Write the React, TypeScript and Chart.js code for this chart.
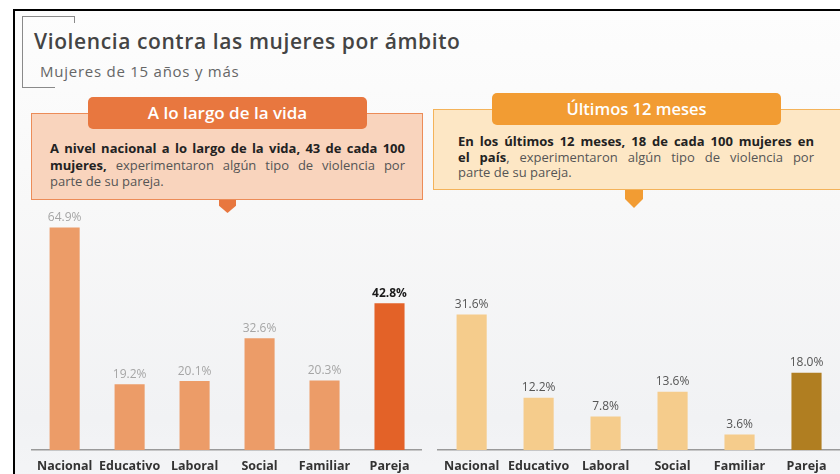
import React, { useEffect, useRef } from "react";
import { Chart, registerables } from "chart.js";

Chart.register(...registerables);

const categories = ["Nacional", "Educativo", "Laboral", "Social", "Familiar", "Pareja"];
const lifetimeValues = [64.9, 19.2, 20.1, 32.6, 20.3, 42.8];
const last12Values = [31.6, 12.2, 7.8, 13.6, 3.6, 18.0];
const lifetimeLabels = ["64.9%", "19.2%", "20.1%", "32.6%", "20.3%", "42.8%"];
const last12Labels = ["31.6%", "12.2%", "7.8%", "13.6%", "3.6%", "18.0%"];

const FONT = "'Open Sans', 'DejaVu Sans', sans-serif";

type LabelStyle = { color: string; bold: boolean };

function makeChart(
  canvas: HTMLCanvasElement,
  values: number[],
  labels: string[],
  barColors: string[],
  labelStyles: LabelStyle[],
  yMax: number,
  barPct: number
) {
  const valueLabels = {
    id: "valueLabels",
    afterDatasetsDraw(chart: any) {
      const ctx = chart.ctx;
      const meta = chart.getDatasetMeta(0);
      meta.data.forEach((bar: any, i: number) => {
        const st = labelStyles[i];
        ctx.save();
        ctx.font = `${st.bold ? "700" : "400"} 12px ${FONT}`;
        ctx.fillStyle = st.color;
        ctx.textAlign = "center";
        ctx.textBaseline = "bottom";
        ctx.fillText(labels[i], bar.x, bar.y - 4);
        ctx.restore();
      });
    },
  };
  return new Chart(canvas, {
    type: "bar",
    data: {
      labels: categories,
      datasets: [
        {
          data: values,
          backgroundColor: barColors,
          borderWidth: 0,
          categoryPercentage: 1,
          barPercentage: barPct,
        },
      ],
    },
    options: {
      animation: false,
      responsive: false,
      maintainAspectRatio: false,
      layout: { padding: { top: 11, left: 0, right: 0, bottom: 0 } },
      plugins: { legend: { display: false }, tooltip: { enabled: false } },
      scales: {
        x: {
          grid: { display: false, drawTicks: false },
          border: { display: true, color: "#9a9a9a", width: 1.5 },
          ticks: {
            padding: 9,
            color: "#333",
            maxRotation: 0,
            minRotation: 0,
            autoSkip: false,
            font: { family: FONT, size: 12.5, weight: "bold" },
          },
        },
        y: {
          display: false,
          min: 0,
          max: yMax,
        },
      },
    },
    plugins: [valueLabels],
  });
}

function BarCanvas(props: {
  left: number;
  width: number;
  values: number[];
  labels: string[];
  barColors: string[];
  labelStyles: LabelStyle[];
  yMax: number;
  barPct: number;
}) {
  const ref = useRef<HTMLCanvasElement>(null);
  useEffect(() => {
    if (!ref.current) return;
    const c = makeChart(
      ref.current,
      props.values,
      props.labels,
      props.barColors,
      props.labelStyles,
      props.yMax,
      props.barPct
    );
    return () => c.destroy();
  }, []);
  return (
    <canvas
      ref={ref}
      width={props.width}
      height={284}
      style={{ position: "absolute", left: props.left, top: 199, width: props.width, height: 284 }}
    />
  );
}

const leftBarColors = ["#ec9c68", "#ec9c68", "#ec9c68", "#ec9c68", "#ec9c68", "#e36228"];
const rightBarColors = ["#f5cc8c", "#f5cc8c", "#f5cc8c", "#f5cc8c", "#f5cc8c", "#b07e21"];
const leftLabelStyles: LabelStyle[] = [
  { color: "#a5a5a5", bold: false },
  { color: "#a5a5a5", bold: false },
  { color: "#a5a5a5", bold: false },
  { color: "#a5a5a5", bold: false },
  { color: "#a5a5a5", bold: false },
  { color: "#1a1a1a", bold: true },
];
const rightLabelStyles: LabelStyle[] = Array(6).fill({ color: "#555", bold: false });

const lineStyle = (top: number, last: boolean): React.CSSProperties => ({
  position: "absolute",
  left: 0,
  right: 0,
  top,
  whiteSpace: "nowrap",
  textAlign: last ? "left" : "justify",
  textAlignLast: last ? "left" : "justify",
});

export default function App() {
  const abs = (s: React.CSSProperties): React.CSSProperties => ({ position: "absolute", ...s });
  return (
    <div
      style={{
        position: "fixed",
        left: 0,
        top: 0,
        width: 840,
        height: 474,
        overflow: "hidden",
        background: "#ffffff",
        fontFamily: FONT,
      }}
    >
      {/* framed panel */}
      <div
        style={abs({
          left: 13,
          top: 9,
          width: 840,
          height: 480,
          borderLeft: "2.5px solid #000",
          borderTop: "2.5px solid #000",
          background: "linear-gradient(180deg, #fdfdfd 0%, #f8f8f8 40%, #f1f2f4 85%, #f4f5f7 100%)",
        })}
      />
      {/* decorative bracket */}
      <div style={abs({ left: 22, top: 16, width: 53, height: 0, borderTop: "1px solid #8a8a8a" })} />
      <div style={abs({ left: 74, top: 16, width: 0, height: 7, borderLeft: "1px solid #8a8a8a" })} />
      <div style={abs({ left: 22, top: 16, width: 0, height: 71, borderLeft: "1px solid #8a8a8a" })} />
      <div style={abs({ left: 22, top: 87, width: 33, height: 0, borderTop: "1px solid #8a8a8a" })} />

      <div
        style={abs({
          left: 34,
          top: 29,
          fontSize: 21,
          fontWeight: 600,
          letterSpacing: 0.6,
          color: "#444",
          whiteSpace: "nowrap",
          lineHeight: "24px",
        })}
      >
        Violencia contra las mujeres por ámbito
      </div>
      <div
        style={abs({
          left: 40,
          top: 61,
          fontSize: 15,
          letterSpacing: 0.75,
          color: "#666",
          whiteSpace: "nowrap",
          lineHeight: "20px",
        })}
      >
        Mujeres de 15 años y más
      </div>

      {/* left callout */}
      <div
        style={abs({
          left: 31,
          top: 113,
          width: 392,
          height: 87,
          background: "#f9d4bd",
          border: "1px solid #ec8c58",
          boxSizing: "border-box",
        })}
      />
      <div
        style={abs({
          left: 88,
          top: 97,
          width: 279,
          height: 32,
          background: "#e8773f",
          borderRadius: 5,
          color: "#fff",
          fontSize: 17,
          fontWeight: 600,
          textAlign: "center",
          lineHeight: "32px",
        })}
      >
        A lo largo de la vida
      </div>
      <div style={abs({ left: 50, top: 140, width: 355, height: 52, fontSize: 13, lineHeight: "16.5px", color: "#555" })}>
        <div style={lineStyle(0, false)}>
          <b style={{ color: "#222" }}>A nivel nacional a lo largo de la vida, 43 de cada 100</b>
        </div>
        <div style={lineStyle(16.5, false)}>
          <b style={{ color: "#222" }}>mujeres,</b> experimentaron algún tipo de violencia por
        </div>
        <div style={lineStyle(33, true)}>parte de su pareja.</div>
      </div>
      <div
        style={abs({
          left: 219,
          top: 200,
          width: 17,
          height: 13,
          background: "#e8773f",
          clipPath: "polygon(0 0, 100% 0, 100% 45%, 50% 100%, 0 45%)",
        })}
      />

      {/* right callout */}
      <div
        style={abs({
          left: 433,
          top: 109,
          width: 420,
          height: 81,
          background: "#fde7c5",
          border: "1px solid #f4b35a",
          boxSizing: "border-box",
        })}
      />
      <div
        style={abs({
          left: 492,
          top: 93,
          width: 289,
          height: 32,
          background: "#f29c33",
          borderRadius: 5,
          color: "#fff",
          fontSize: 16.5,
          fontWeight: 600,
          textAlign: "center",
          lineHeight: "32px",
        })}
      >
        Últimos 12 meses
      </div>
      <div style={abs({ left: 458, top: 134, width: 356, height: 50, fontSize: 13, lineHeight: "15.7px", color: "#555" })}>
        <div style={lineStyle(0, false)}>
          <b style={{ color: "#222" }}>En los últimos 12 meses, 18 de cada 100 mujeres en</b>
        </div>
        <div style={lineStyle(15.7, false)}>
          <b style={{ color: "#222" }}>el país</b>, experimentaron algún tipo de violencia por
        </div>
        <div style={lineStyle(31.4, true)}>parte de su pareja.</div>
      </div>
      <div
        style={abs({
          left: 625,
          top: 190,
          width: 18,
          height: 18,
          background: "#f29c33",
          clipPath: "polygon(0 0, 100% 0, 100% 50%, 50% 100%, 0 50%)",
        })}
      />

      <BarCanvas
        left={28}
        width={394}
        values={lifetimeValues}
        labels={lifetimeLabels}
        barColors={leftBarColors}
        labelStyles={leftLabelStyles}
        yMax={70}
        barPct={0.463}
      />
      <BarCanvas
        left={435}
        width={405}
        values={last12Values}
        labels={last12Labels}
        barColors={rightBarColors}
        labelStyles={rightLabelStyles}
        yMax={56}
        barPct={0.45}
      />
    </div>
  );
}
